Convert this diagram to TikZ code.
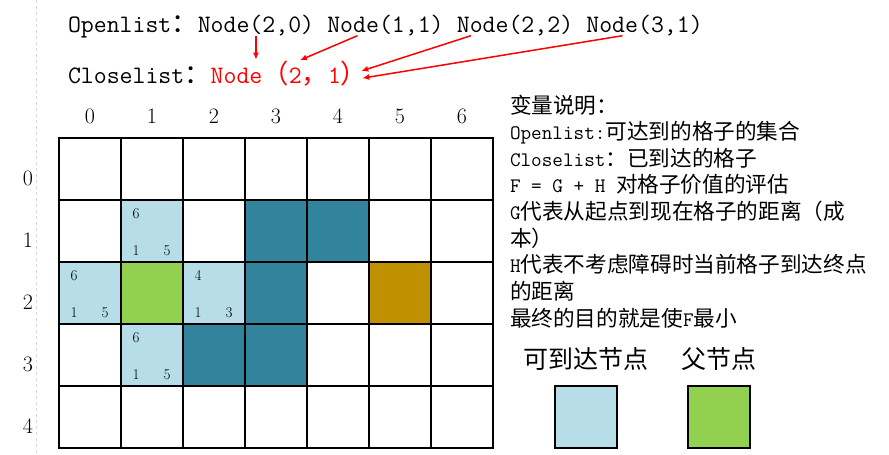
\documentclass[tikz,border=0pt]{standalone}
\usepackage{fontspec}
\newfontfamily\cjk[Scale=1.05]{Noto Sans CJK SC}
\usetikzlibrary{positioning,% relative placement of the list entries
arrows.meta}
\definecolor{openblue}{HTML}{B7DEE8}
\definecolor{parentgreen}{HTML}{92D050}
\definecolor{wallteal}{HTML}{31849B}
\definecolor{goalgold}{HTML}{BF9000}
\tikzset{every node/.style={inner sep=0pt, outer sep=0pt},
  cell/.style={draw, line width=1.5pt, minimum size=62pt, fill=white},
  open/.style={fill=openblue},
  parent/.style={fill=parentgreen},
  wall/.style={fill=wallteal},
  goal/.style={fill=goalgold},
  cell 1-1/.style=open, cell 0-2/.style=open, cell 2-2/.style=open, cell 1-3/.style=open,
  cell 1-2/.style=parent, cell 5-2/.style=goal,
  cell 3-1/.style=wall, cell 4-1/.style=wall, cell 3-2/.style=wall,
  cell 2-3/.style=wall, cell 3-3/.style=wall,
  listtext/.style={font=\fontsize{25.1}{30}\selectfont\ttfamily},
  notetext/.style={font=\fontsize{20.6}{26.6}\selectfont\ttfamily, anchor=base west},
  keytext/.style={font=\fontsize{23.8}{28}\selectfont\cjk},
  axis/.style={font=\fontsize{22}{26}\selectfont},
  cost/.style={font=\fontsize{15}{18}\selectfont},
  redarrow/.style={-{Latex[length=7pt,width=6pt]}, red, line width=1.5pt, shorten >=1pt}}

\begin{document}
\begin{tikzpicture}[x=1pt,y=-1pt]
  \path[fill=white] (0,0) rectangle (889,454);
  \draw[gray!30, dashed] (36,0) -- (36,454);
  % open and closed lists
  \node[listtext, anchor=base west] (openhead) at (68,32) {Openlist{\cjk ：}};
  \node[listtext, base right=0pt of openhead] (o20) {Node(2,0)};
  \node[listtext, base right=13.2pt of o20] (o11) {Node(1,1)};
  \node[listtext, base right=13.2pt of o11] (o22) {Node(2,2)};
  \node[listtext, base right=13.2pt of o22] (o31) {Node(3,1)};
  \node[listtext, anchor=base west] (closehead) at (68,83) {Closelist{\cjk ：}};
  \node[listtext, text=red, base right=0pt of closehead] (closed)
    {Node{\cjk （}2{\cjk ，}1{\cjk ）}};
  \draw[redarrow] (o20.south) -- (o20.south |- closed.north);
  \draw[redarrow] ([xshift=-28pt]o11.south) -- ([xshift=10pt]closed.north);
  \draw[redarrow] ([xshift=-44pt]o22.south) -- ([xshift=-7pt,yshift=2pt]closed.east);
  \draw[redarrow] ([xshift=-22pt]o31.south) -- ([xshift=-6pt,yshift=-5pt]closed.east);
  % grid
  \foreach \c in {0,...,6}
    \foreach \r in {0,...,4}
      \node[cell, cell \c-\r/.try] (cell-\c-\r) at (90+62*\c,169+62*\r) {};
  \foreach \c in {0,...,6} \node[axis] (col-\c) at (90+62*\c,116) {\c};
  \foreach \r in {0,...,4} \node[axis] (row-\r) at (28,178+62*\r) {\r};
  \foreach \c/\r/\f/\g/\h in {1/1/6/1/5, 0/2/6/1/5, 2/2/4/1/3, 1/3/6/1/5}
  {
    \node[cost] (f-\c-\r) at ([shift={(15,13)}]cell-\c-\r.north west) {\f};
    \node[cost] (g-\c-\r) at ([shift={(15,50)}]cell-\c-\r.north west) {\g};
    \node[cost] (h-\c-\r) at ([shift={(46,50)}]cell-\c-\r.north west) {\h};
  }
  % notes
  \foreach \t [count=\i] in {{{\cjk 变量说明：}},
    {Openlist:{\cjk 可达到的格子的集合}},
    {Closelist{\cjk ：已到达的格子}},
    {F = G + H {\cjk 对格子价值的评估}},
    {G{\cjk 代表从起点到现在格子的距离（成}},
    {{\cjk 本）}},
    {H{\cjk 代表不考虑障碍时当前格子到达终点}},
    {{\cjk 的距离}},
    {{\cjk 最终的目的就是使}F{\cjk 最小}}}
    \node[notetext] (note-\i) at (510,113+26.6*\i-26.6) {\t};
  % legend
  \node[cell, open] (key-open) at (586,417) {};
  \node[cell, parent] (key-parent) at (719,417) {};
  \node[keytext, above=16pt of key-open] (key-open-label) {可到达节点};
  \node[keytext, above=16pt of key-parent] (key-parent-label) {父节点};
\end{tikzpicture}
\end{document}
